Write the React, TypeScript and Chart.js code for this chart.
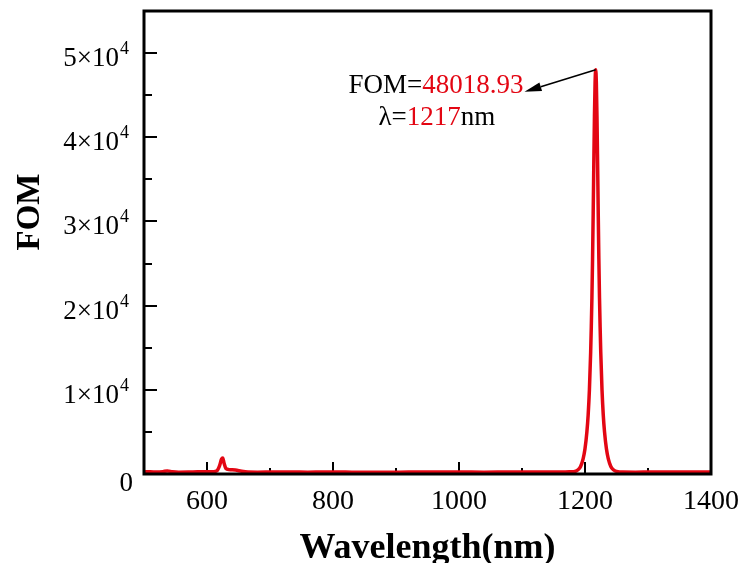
import React, { useEffect, useRef } from 'react';
import { Chart, registerables } from 'chart.js';

Chart.register(...registerables);

// ---- data ----
const wavelengths = [
  500, 510, 520, 530, 537, 545, 555, 570, 585, 600,
  610, 616, 620, 623, 625, 627, 630, 635, 645, 655,
  665, 680, 700, 720, 740, 760, 780, 800, 830, 860,
  890, 920, 950, 980, 1010, 1040, 1070, 1100, 1130, 1150,
  1165, 1175, 1182, 1189, 1193, 1197, 1200, 1203, 1205, 1207,
  1209, 1210, 1211, 1212, 1213, 1214, 1215, 1216, 1217, 1218,
  1219, 1220, 1221, 1222, 1223, 1224, 1225, 1227, 1229, 1231,
  1234, 1237, 1241, 1245, 1252, 1260, 1280, 1300, 1330, 1360,
  1400,
];
const fomValues = [
  250, 260, 230, 280, 360, 270, 220, 230, 260, 270,
  280, 400, 1000, 1750, 1900, 1300, 650, 520, 470, 330,
  240, 220, 230, 240, 230, 220, 230, 240, 220, 200,
  210, 230, 240, 240, 230, 220, 230, 240, 230, 240,
  250, 255, 270, 500, 900, 1800, 3000, 5000, 7000, 10000,
  14500, 17500, 21000, 25500, 31000, 37000, 42500, 46500, 48018.93, 46500,
  42500, 37000, 31000, 25500, 21000, 17500, 14500, 10000, 7000, 5000,
  3000, 1800, 900, 500, 270, 230, 220, 230, 240, 230,
  240,
];
const xTickLabels = [600, 800, 1000, 1200, 1400];
const yMajorTicks = [10000, 20000, 30000, 40000, 50000];
const peakWavelength = 1217;
const peakFom = 48018.93;
const arrowTip = { x: 1104, y: 45400 }; // in data units

const SERIF = '"Liberation Serif", "Times New Roman", serif';
const RED = '#e30613';

export default function App() {
  const ref = useRef<HTMLCanvasElement>(null);

  useEffect(() => {
    document.body.style.margin = '0';
    const canvas = ref.current!;

    const framePlugin = {
      id: 'framePlugin',
      beforeDatasetsDraw(chart: any) {
        const { ctx, chartArea: a, scales } = chart;
        const xs = scales.x;
        const ys = scales.y;
        ctx.save();
        ctx.strokeStyle = '#000';
        ctx.lineWidth = 2;
        ctx.beginPath();
        for (const t of xs.ticks) {
          const v = t.value;
          if (v <= xs.min || v >= xs.max) continue;
          const px = Math.round(xs.getPixelForValue(v));
          const len = v % 200 === 0 ? 12 : 6;
          ctx.moveTo(px, a.bottom);
          ctx.lineTo(px, a.bottom - len);
        }
        for (const t of ys.ticks) {
          const v = t.value;
          if (v <= ys.min || v >= ys.max) continue;
          const py = Math.round(ys.getPixelForValue(v));
          const len = v % 10000 === 0 ? 13 : 8;
          ctx.moveTo(a.left, py);
          ctx.lineTo(a.left + len, py);
        }
        ctx.stroke();
        ctx.restore();
      },
      afterDraw(chart: any) {
        const { ctx, chartArea: a, scales } = chart;
        const xs = scales.x;
        const ys = scales.y;
        ctx.save();
        // frame
        ctx.strokeStyle = '#000';
        ctx.lineWidth = 3;
        ctx.strokeRect(a.left, a.top, a.right - a.left, a.bottom - a.top);

        // y tick labels  m×10^4
        ctx.fillStyle = '#000';
        ctx.textBaseline = 'alphabetic';
        const rightEdge = a.left - 16;
        for (const v of yMajorTicks) {
          const py = ys.getPixelForValue(v);
          const m = v / 10000;
          ctx.font = `18px ${SERIF}`;
          const supW = ctx.measureText('4').width;
          ctx.textAlign = 'left';
          ctx.font = `27px ${SERIF}`;
          const base = `${m}×10`;
          const baseW = ctx.measureText(base).width;
          const x0 = rightEdge - supW - baseW;
          const baseline = py + 13;
          ctx.fillText(base, x0, baseline);
          ctx.font = `18px ${SERIF}`;
          ctx.fillText('4', x0 + baseW + 1, baseline - 12);
        }
        ctx.font = `27px ${SERIF}`;
        ctx.textAlign = 'right';
        ctx.fillText('0', rightEdge + 5, ys.getPixelForValue(0) + 17);

        // y axis title
        ctx.save();
        ctx.translate(30, 212);
        ctx.rotate(-Math.PI / 2);
        ctx.font = `bold 33px ${SERIF}`;
        ctx.textAlign = 'center';
        ctx.textBaseline = 'middle';
        ctx.fillText('FOM', 0, 0);
        ctx.restore();

        // annotation arrow
        const pX = xs.getPixelForValue(peakWavelength);
        const pY = ys.getPixelForValue(peakFom);
        const tX = xs.getPixelForValue(arrowTip.x);
        const tY = ys.getPixelForValue(arrowTip.y);
        const ang = Math.atan2(tY - pY, tX - pX);
        const hl = 17;
        const hw = 4.5;
        const bx = tX - hl * Math.cos(ang);
        const by = tY - hl * Math.sin(ang);
        ctx.strokeStyle = '#000';
        ctx.lineWidth = 1.6;
        ctx.beginPath();
        ctx.moveTo(pX, pY);
        ctx.lineTo(bx, by);
        ctx.stroke();
        ctx.fillStyle = '#000';
        ctx.beginPath();
        ctx.moveTo(tX, tY);
        ctx.lineTo(bx + hw * Math.sin(ang), by - hw * Math.cos(ang));
        ctx.lineTo(bx - hw * Math.sin(ang), by + hw * Math.cos(ang));
        ctx.closePath();
        ctx.fill();

        // annotation text
        ctx.font = `27px ${SERIF}`;
        ctx.textAlign = 'left';
        ctx.textBaseline = 'alphabetic';
        const p1 = 'FOM=';
        const p2 = peakFom.toFixed(2);
        const w1 = ctx.measureText(p1).width;
        const w2 = ctx.measureText(p2).width;
        const l1x = tX - 1 - w1 - w2;
        const l1y = tY + 1;
        ctx.fillStyle = '#000';
        ctx.fillText(p1, l1x, l1y);
        ctx.fillStyle = RED;
        ctx.fillText(p2, l1x + w1, l1y);

        const q1 = 'λ=';
        const q2 = String(peakWavelength);
        const q3 = 'nm';
        let lx = l1x + 30;
        const l2y = l1y + 32;
        ctx.fillStyle = '#000';
        ctx.fillText(q1, lx, l2y);
        lx += ctx.measureText(q1).width;
        ctx.fillStyle = RED;
        ctx.fillText(q2, lx, l2y);
        lx += ctx.measureText(q2).width;
        ctx.fillStyle = '#000';
        ctx.fillText(q3, lx, l2y);
        ctx.restore();
      },
    };

    const chart = new Chart(canvas, {
      type: 'line',
      data: {
        datasets: [
          {
            data: wavelengths.map((x, i) => ({ x, y: fomValues[i] })),
            borderColor: RED,
            borderWidth: 3.5,
            pointRadius: 0,
            fill: false,
            cubicInterpolationMode: 'monotone',
          },
        ],
      },
      options: {
        responsive: false,
        animation: false,
        layout: { padding: { top: 11, right: 31, left: 0, bottom: 0 } },
        plugins: {
          legend: { display: false },
          tooltip: { enabled: false },
        },
        scales: {
          x: {
            type: 'linear',
            min: 500,
            max: 1400,
            grid: { display: false, drawTicks: false },
            border: { display: false },
            ticks: {
              stepSize: 100,
              autoSkip: false,
              maxRotation: 0,
              color: '#000',
              padding: 11,
              font: { family: SERIF, size: 28 },
              callback: (v: any) => (xTickLabels.includes(Number(v)) ? String(v) : ''),
            },
            title: {
              display: true,
              text: 'Wavelength(nm)',
              color: '#000',
              font: { family: SERIF, size: 36, weight: 'bold' },
              padding: { top: 0, bottom: -7 },
            },
            afterFit: (s: any) => {
              s.height = 89;
              s.paddingLeft = 0;
              s.paddingRight = 0;
            },
          },
          y: {
            type: 'linear',
            min: 0,
            max: 55000,
            grid: { display: false, drawTicks: false },
            border: { display: false },
            ticks: { stepSize: 5000, display: false },
            afterFit: (s: any) => {
              s.width = 144;
              s.paddingTop = 0;
              s.paddingBottom = 0;
            },
          },
        },
      } as any,
      plugins: [framePlugin],
    });

    return () => chart.destroy();
  }, []);

  return (
    <div style={{ position: 'absolute', left: 0, top: 0, width: 742, height: 563, background: '#fff' }}>
      <canvas ref={ref} width={742} height={563} style={{ display: 'block' }} />
    </div>
  );
}
